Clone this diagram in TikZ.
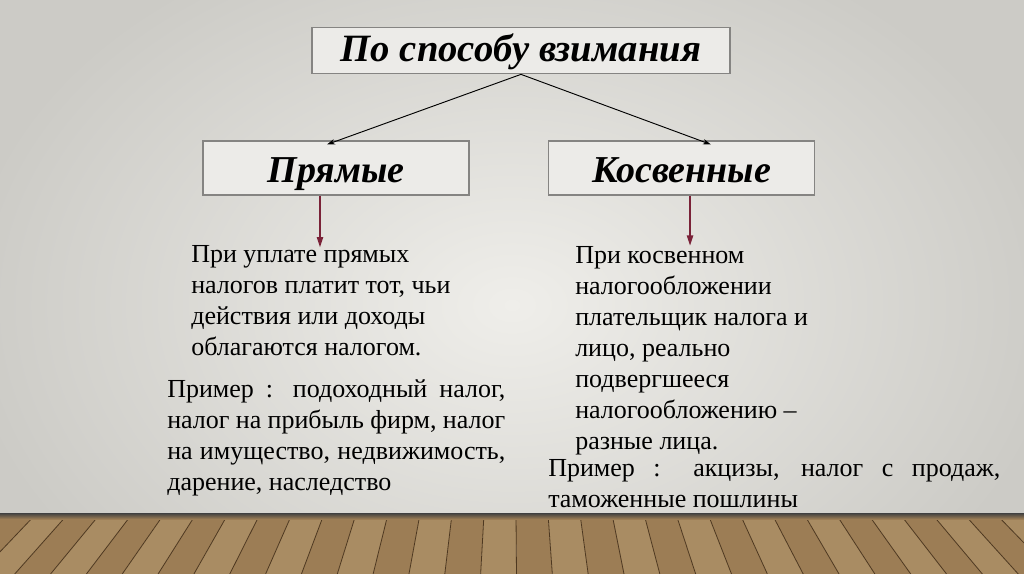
\documentclass[tikz,border=0pt]{standalone}
\usepackage{fontspec}
\setmainfont{Liberation Serif}
\usetikzlibrary{positioning,arrows.meta,calc}
\definecolor{wallin}{HTML}{EFEEEA}
\definecolor{wallout}{HTML}{CCCBC6}
\definecolor{boxfill}{HTML}{ECEBE8}
\definecolor{frameg}{HTML}{858482}
\definecolor{wine}{HTML}{7A2238}
\definecolor{wood}{HTML}{9C7D55}
\definecolor{woodb}{HTML}{A98C63}
\definecolor{woodln}{HTML}{4E3820}
\tikzset{
  hdr/.style={draw=frameg, line width=0.8pt, fill=boxfill, inner sep=0pt,
              font=\fontsize{29}{33}\selectfont\bfseries\itshape,
              text height=20pt, text depth=2.8pt,
              minimum width=313.5pt, minimum height=35pt},
  kind/.style={draw=frameg, line width=0.8pt, fill=boxfill, inner sep=0pt,
               font=\fontsize{28.5}{33}\selectfont\bfseries\itshape,
               text height=22pt, text depth=1pt,
               minimum width=199.5pt, minimum height=40.5pt},
  txt/.style={anchor=north west, inner sep=0pt, align=left,
              font=\fontsize{19.5}{23.3}\selectfont},
  ex/.style={txt, align=justify},
  split/.style={-{Stealth[length=6pt,width=4pt]}, line width=0.7pt, draw=black},
  down/.style={-{Triangle[length=8pt,width=4.5pt]}, line width=1.6pt, draw=wine},
  plank/.style={draw=woodln, line width=0.6pt},
}
\begin{document}
\begin{tikzpicture}[x=0.75pt, y=-0.75pt]
\useasboundingbox (0,0) rectangle (1024,574);
% wall and floor
\begin{scope}
  \clip (0,0) rectangle (1024,514);
  \shade[inner color=wallin, outer color=wallout] (-40,-90) rectangle (1064,700);
\end{scope}
\foreach \p [count=\i] in {-60,-28,4,36,68,100,132,164,196,228,260,292,324,356,388,420,452,484,516,548,580,612,644,676,708,740,772,804,836,868,900,932,964,996,1028,1060}{
  \pgfmathsetmacro\q{\p+32}
  \ifodd\i \def\tone{wood}\else\def\tone{woodb}\fi
  \fill[\tone] (\p,514) -- (\q,514) -- ({512+(\q-512)*1.12},574) -- ({512+(\p-512)*1.12},574) -- cycle;
  \draw[plank] (\p,514) -- ({512+(\p-512)*1.12},574);
}
\shade[top color=black!75, bottom color=wood] (0,513) rectangle (1024,519);
% level 0
\node[hdr] (sposob) at (521,50.5) {По способу взимания};
% level 1
\node[kind] (pryamye) at (336,168) {Прямые};
\node[kind] (kosv) at (681.5,168) {Косвенные};
% texts
\node[txt] (txtp) at (191,245)
  {При уплате прямых\\налогов платит тот, чьи\\действия или доходы\\облагаются налогом.};
\node[ex, text width=253.5pt] (exp) at (167,379)
  {Пример~: подоходный налог, налог на прибыль фирм, налог на имущество, недвижимость, дарение, наследство};
\node[txt] (txtk) at (575,246)
  {При косвенном\\налогообложении\\плательщик налога и\\лицо, реально\\подвергшееся\\налогообложению –\\разные лица.};
\node[ex, text width=339pt] (exk) at (548,459)
  {Пример~: акцизы, налог с продаж, таможенные пошлины};
% arrows
\draw[split] (sposob.south) -- ([xshift=-6.75pt,yshift=-3pt]pryamye.north);
\draw[split] (sposob.south) -- ([xshift=22pt,yshift=-3pt]kosv.north);
\draw[down] ([xshift=-12pt]pryamye.south) -- ([xshift=-12pt,yshift=-2pt]pryamye.south |- txtp.north);
\draw[down] ([xshift=6.4pt]kosv.south) -- ([xshift=6.4pt]kosv.south |- txtk.north);
\end{tikzpicture}
\end{document}
